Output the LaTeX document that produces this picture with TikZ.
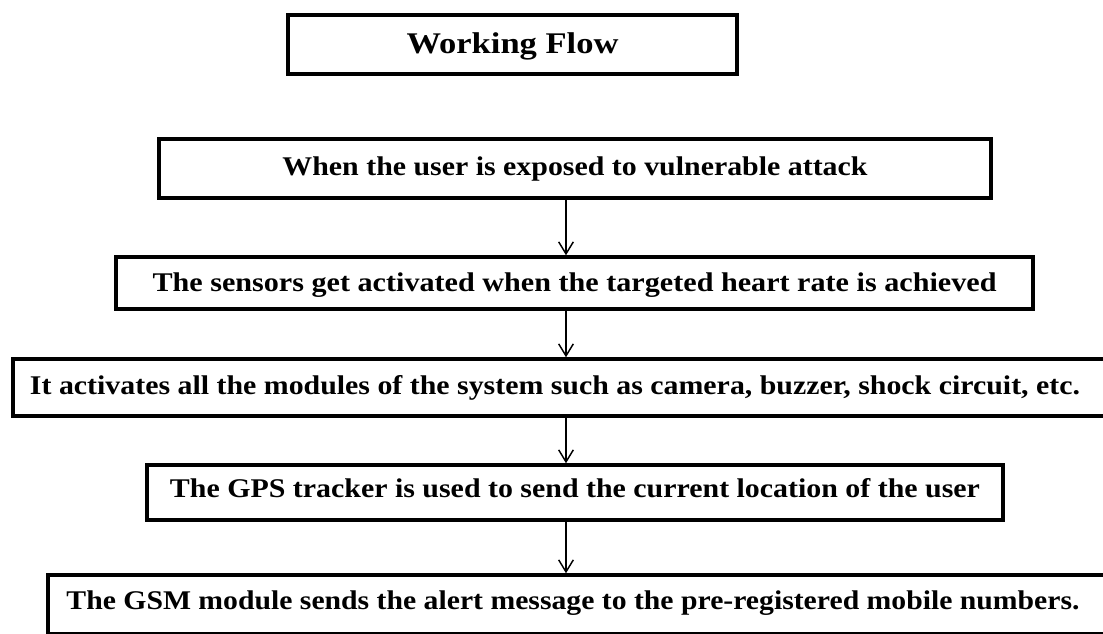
\documentclass[tikz,border=0pt]{standalone}
\usepackage{fontspec}
\setmainfont{Liberation Serif}
\usetikzlibrary{arrows.meta}
\newcommand{\fitto}[2]{\resizebox{#1}{\height}{#2}}
\begin{document}
\begin{tikzpicture}[x=0.75pt,y=-0.75pt,
  flowbox/.style={draw=black,line width=2.6pt,rectangle,inner sep=0pt,
    text height=14.3pt,text depth=4.5pt,
    font=\fontsize{20.25pt}{24pt}\selectfont\bfseries},
  titlebox/.style={flowbox,font=\fontsize{22.5pt}{27pt}\selectfont\bfseries},
  flowarrow/.style={draw=black,line width=1.1pt,-{Straight Barb[length=9pt,width=11pt,line width=1.1pt]}}]
\clip (0,0) rectangle (1103,633);
\fill[white] (0,0) rectangle (1103,633);
\node[titlebox,text height=17.3pt,minimum width=336.75pt,minimum height=44.25pt] (b0) at (512.5,44.5)
  {\fitto{159pt}{Working Flow}};
\node[flowbox,minimum width=624pt,minimum height=44.25pt] (b1) at (575,168.5)
  {\fitto{438.75pt}{When the user is exposed to vulnerable attack}};
\node[flowbox,text height=17.3pt,minimum width=687.75pt,minimum height=39pt] (b2) at (574.5,283)
  {\fitto{633pt}{The sensors get activated when the targeted heart rate is achieved}};
\node[flowbox,minimum width=819pt,minimum height=42.75pt] (b3) at (559,387.5)
  {\fitto{787.5pt}{It activates all the modules of the system such as camera, buzzer, shock circuit, etc.}\hspace*{6pt}};
\node[flowbox,text height=12.7pt,minimum width=642pt,minimum height=41.25pt] (b4) at (575,492.5)
  {\fitto{607.5pt}{The GPS tracker is used to send the current location of the user}};
\node[flowbox,text height=11.3pt,minimum width=796.5pt,minimum height=44.25pt] (b5) at (579,604.5)
  {\fitto{759.75pt}{The GSM module sends the alert message to the pre-registered mobile numbers.}\hspace*{9pt}};
\coordinate (ax) at (566,0);
\draw[flowarrow] (b1.south -| ax) -- (b2.north -| ax);
\draw[flowarrow] (b2.south -| ax) -- (b3.north -| ax);
\draw[flowarrow] (b3.south -| ax) -- (b4.north -| ax);
\draw[flowarrow] (b4.south -| ax) -- (b5.north -| ax);
\end{tikzpicture}
\end{document}
